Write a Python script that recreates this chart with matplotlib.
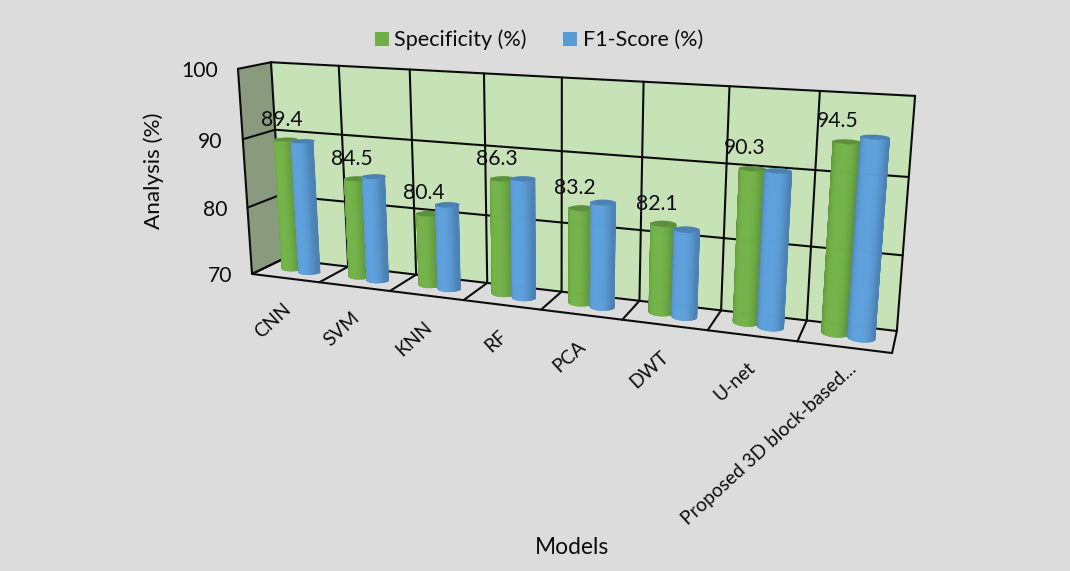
import numpy as np
import matplotlib
matplotlib.use("Agg")
import matplotlib.pyplot as plt
from matplotlib.collections import PolyCollection
from matplotlib.patches import Polygon, Rectangle

plt.rcParams['font.family'] = ['Lato', 'DejaVu Sans']

models = ["CNN", "SVM", "KNN", "RF", "PCA", "DWT", "U-net", "Proposed 3D block-based..."]
specificity = [89.4, 84.5, 80.4, 86.3, 83.2, 82.1, 90.3, 94.5]
f1_score = [89.5, 85.2, 82.1, 86.7, 84.4, 81.8, 90.4, 95.4]
y_ticks = [70, 80, 90, 100]

GREEN = np.array([0x70, 0xad, 0x47]) / 255
BLUE = np.array([0x5b, 0x9b, 0xd5]) / 255
BG = "#dcdcdc"
WALL = "#c8e2b8"
SIDE = "#8a9a7e"
INK = "#0c0c0c"

VMIN, VMAX = 70, 100


def fit_camera(world, image):
    # direct linear transform: box coordinates (x, depth, value) -> pixels
    rows = []
    rhs = []
    for (x, d, v), (u, w) in zip(world, image):
        rows.append([x, d, v, 1, 0, 0, 0, 0, -u * x, -u * d, -u * v])
        rhs.append(u)
        rows.append([0, 0, 0, 0, x, d, v, 1, -w * x, -w * d, -w * v])
        rhs.append(w)
    sol = np.linalg.lstsq(np.array(rows, float), np.array(rhs, float), rcond=None)[0]
    return np.append(sol, 1.0).reshape(3, 4)


n = len(models)
cam = fit_camera(
    [(0, 1, 100), (n, 1, 100), (0, 1, 70), (n, 1, 70), (0, 0, 70), (n, 0, 70), (0, 0, 100)],
    [(272, 62), (915, 96), (282, 260), (897, 330), (253, 273), (892, 354), (237, 69)],
)


def proj(x, d, v):
    x, d, v = np.broadcast_arrays(np.asarray(x, float), np.asarray(d, float), np.asarray(v, float))
    pts = np.stack([x, d, v, np.ones_like(x)], axis=-1) @ cam.T
    return pts[..., 0] / pts[..., 2], pts[..., 1] / pts[..., 2]


def line3(ax, a, b, lw=1.5):
    px, py = proj([a[0], b[0]], [a[1], b[1]], [a[2], b[2]])
    ax.plot(px, py, color=INK, lw=lw, solid_capstyle='round', zorder=2)


def quad(ax, corners, color, z=1):
    px, py = proj(*np.array(corners, float).T)
    ax.add_patch(Polygon(np.column_stack([px, py]), closed=True, fc=color, ec='none', zorder=z))


def cylinder(ax, cx, depth, value, base, rx=0.148, rd=0.20):
    # body made of thin vertical strips so the shading runs around the tube
    th = np.linspace(np.pi, 2 * np.pi, 61)
    bx, by = proj(cx + rx * np.cos(th), depth + rd * np.sin(th), VMIN)
    tx, ty = proj(cx + rx * np.cos(th), depth + rd * np.sin(th), value)
    strips = []
    cols = []
    for i in range(len(th) - 1):
        strips.append([(bx[i], by[i]), (bx[i + 1], by[i + 1]), (tx[i + 1], ty[i + 1]), (tx[i], ty[i])])
        t = abs(np.cos((th[i] + th[i + 1]) / 2 + 0.15))
        cols.append(base * (1.04 - 0.20 * t ** 3))
    cols = np.clip(cols, 0, 1)
    ax.add_collection(PolyCollection(strips, facecolors=cols, edgecolors=cols, linewidths=0.4, zorder=3))

    th2 = np.linspace(0, 2 * np.pi, 80)
    ex, ey = proj(cx + rx * np.cos(th2), depth + rd * np.sin(th2), value)
    ax.add_patch(Polygon(np.column_stack([ex, ey]), closed=True, fc=base * 0.84, ec='none', zorder=3))


fig = plt.figure(figsize=(10.7, 5.71), dpi=100, facecolor=BG)
ax = fig.add_axes([0, 0, 1, 1])
ax.set_xlim(0, 1070)
ax.set_ylim(571, 0)
ax.axis('off')

# walls
quad(ax, [(0, 1, VMIN), (n, 1, VMIN), (n, 1, VMAX), (0, 1, VMAX)], WALL)
quad(ax, [(0, 0, VMIN), (0, 1, VMIN), (0, 1, VMAX), (0, 0, VMAX)], SIDE)

# grid on the walls
for v in y_ticks:
    line3(ax, (0, 1, v), (n, 1, v))
    line3(ax, (0, 0, v), (0, 1, v))
for i in range(n + 1):
    line3(ax, (i, 1, VMIN), (i, 1, VMAX))
    line3(ax, (i, 0, VMIN), (i, 1, VMIN))
line3(ax, (0, 0, VMIN), (0, 0, VMAX))
line3(ax, (0, 0, VMIN), (n, 0, VMIN))

# bars, green first so the blue one sits over it
for i in range(n):
    cylinder(ax, i + 0.355, 0.58, specificity[i], GREEN)
    cylinder(ax, i + 0.645, 0.50, f1_score[i], BLUE)

# value labels
for i in range(n):
    px, py = proj(0.375 + 0.992 * i, 0.58, specificity[i])
    ax.annotate(f"{specificity[i]}", (px, py), xytext=(-4, 14.5), textcoords='offset points',
                ha='center', va='center', fontsize=15.2, color=INK, zorder=5)

# tick labels
for v in y_ticks:
    px, py = proj(0, 0, v)
    ax.text(px - 20, py + 2.5, str(v), ha='right', va='center', fontsize=15.2, color=INK)

for i, name in enumerate(models):
    px, py = proj(i + 0.5, 0, VMIN)
    # the long truncated name hangs a little further out along the edge
    dx, dy = (10, 19) if i == n - 1 else (3.5 - 0.4 * i, 28.5 + 0.2 * i)
    ax.text(px + dx, py + dy, name, rotation=42.5, rotation_mode='anchor', ha='right', va='center',
            fontsize=13.8, color=INK)

ax.text(154, 171, "Analysis (%)", rotation=90, ha='center', va='center', fontsize=16.2, color=INK)
ax.text(572, 547, "Models", ha='center', va='center', fontsize=16.4, color=INK)

# legend
ax.add_patch(Rectangle((375, 32), 14, 14, fc=GREEN, ec='none'))
ax.text(394, 40, "Specificity (%)", ha='left', va='center', fontsize=15.6, color=INK)
ax.add_patch(Rectangle((563, 32), 14, 14, fc=BLUE, ec='none'))
ax.text(583, 40, "F1-Score (%)", ha='left', va='center', fontsize=15.5, color=INK)

fig.savefig("out.png", dpi=100, facecolor=BG)
